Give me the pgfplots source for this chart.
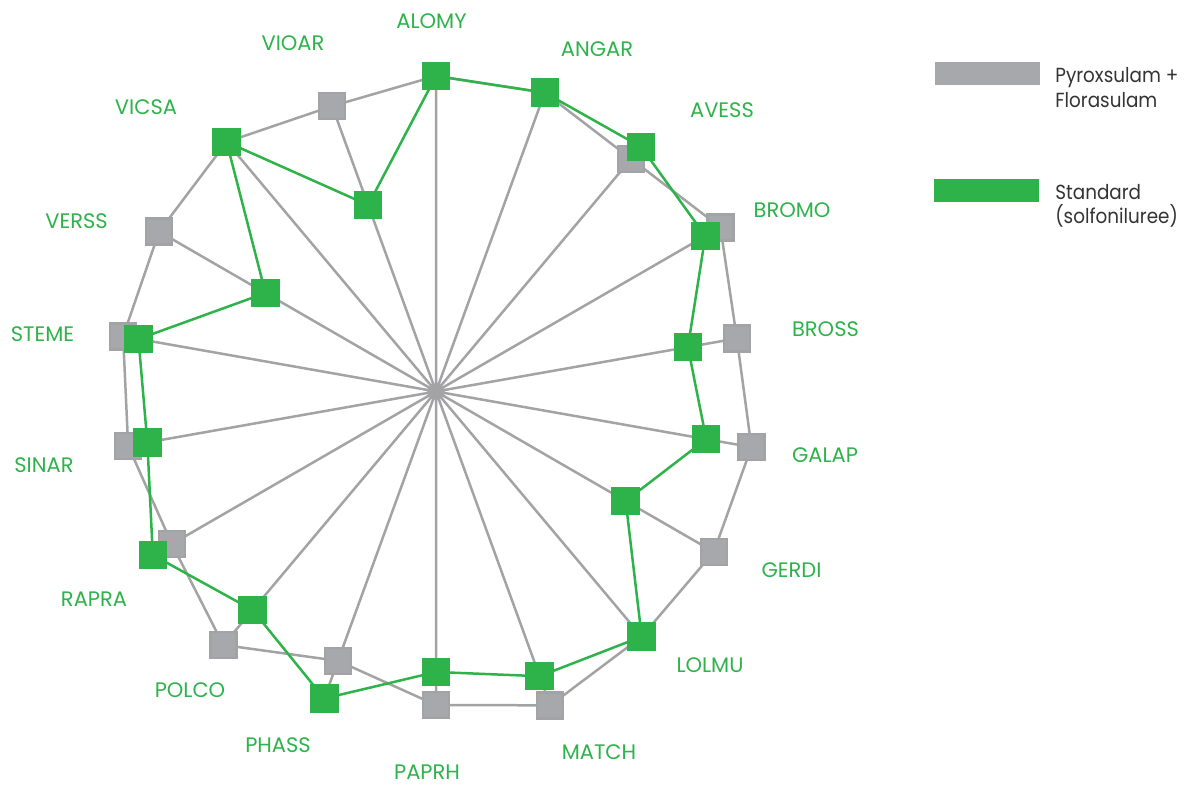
\documentclass[border=0pt]{standalone}
\usepackage{fontspec}
\setmainfont{Poppins}
\newfontfamily\legfont[FakeStretch=0.9]{Poppins}
\usepackage{pgfplots}
\pgfplotsset{compat=1.18}
\usepgfplotslibrary{polar}
\definecolor{grn}{HTML}{2DB34A}
\definecolor{gry}{HTML}{A7A8AB}
\definecolor{gryl}{HTML}{A3A3A5}
\definecolor{txt}{HTML}{333333}
\begin{document}
\begin{tikzpicture}[x=0.5pt,y=0.5pt]
\useasboundingbox (0,0) rectangle (1184,785);
\begin{polaraxis}[
  at={(436,393.5)}, anchor=origin,
  scale only axis, width=340pt, height=340pt,
  xmin=0, xmax=360, ymin=0, ymax=340,
  hide axis, clip=false,
]
% spokes (to the outer of the two values)
\addplot[gryl, line width=1.25pt, mark=none, line join=round] coordinates {
(0,0) (90,315.5) (0,0) (70,318) (0,0) (50,319.2) (0,0) (30,328.4)
(0,0) (10,305.5) (0,0) (-10,320.3) (0,0) (-30,320.8) (0,0) (-50,320)
(0,0) (-70,334) (0,0) (-90,313.5) (0,0) (-110,326.7) (0,0) (-130,330.9)
(0,0) (-150,327) (0,0) (-170,312.6) (0,0) (170,317.7) (0,0) (150,319.7)
(0,0) (130,325.7) (0,0) (110,303.7) (0,0)};
% Pyroxsulam + Florasulam
\addplot[gryl, line width=1.25pt, mark=square*, mark size=6.5pt,
  mark options={fill=gry, draw=none}] coordinates {
(90,315.5) (70,318) (50,303.6) (30,328.4) (10,305.5) (-10,320.3)
(-30,320.8) (-50,320) (-70,334) (-90,313.5) (-110,286.6) (-130,330.9)
(-150,305) (-170,312.6) (170,317.7) (150,319.7) (130,325.7) (110,303.7)
(90,315.5)};
% Standard (solfoniluree)
\addplot[grn, line width=1.25pt, mark=square*, mark size=6.5pt,
  mark options={fill=grn, draw=none}] coordinates {
(90,315.5) (70,318) (50,319.2) (30,311) (10,255.8) (-10,274.4)
(-30,219) (-50,320) (-70,303) (-90,280.5) (-110,326.7) (-130,285.3)
(-150,327) (-170,293.1) (170,302.1) (150,196.9) (130,325.7) (110,198.4)
(90,315.5)};
\end{polaraxis}
% category labels
\begin{scope}[every node/.style={text=grn, font=\fontsize{10.5}{12}\selectfont, anchor=center, inner sep=0pt}]
\node at (431.5,763.5) {ALOMY};
\node at (597,735.5) {ANGAR};
\node at (722,675) {AVESS};
\node at (792,574.5) {BROMO};
\node at (825.5,455.5) {BROSS};
\node at (825,330) {GALAP};
\node at (791.5,215) {GERDI};
\node at (710,120) {LOLMU};
\node at (599,33) {MATCH};
\node at (427,12.5) {PAPRH};
\node at (278,40) {PHASS};
\node at (190,95) {POLCO};
\node at (94,186) {RAPRA};
\node at (44,319.5) {SINAR};
\node at (42.5,451) {STEME};
\node at (76.5,563.5) {VERSS};
\node at (146,677.5) {VICSA};
\node at (293,742) {VIOAR};
\end{scope}
% legend
\fill[gry] (935,700) rectangle (1040,723);
\fill[grn] (934,583) rectangle (1039,606);
\begin{scope}[every node/.style={text=txt, font=\legfont\fontsize{10.2}{12}\selectfont, anchor=base west, inner sep=0pt}]
\node at (1055,702) {Pyroxsulam +};
\node at (1055,677) {Florasulam};
\node at (1055,585) {Standard};
\node at (1055,561) {(solfoniluree)};
\end{scope}
\end{tikzpicture}
\end{document}
